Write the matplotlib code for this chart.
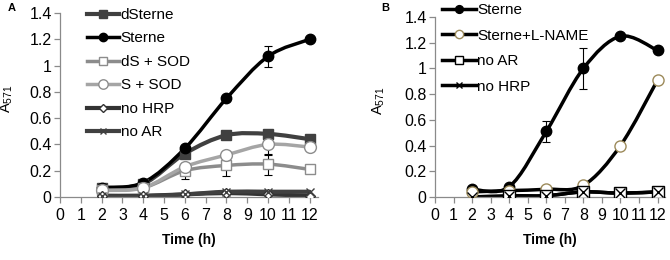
import matplotlib
matplotlib.use("Agg")
import matplotlib.pyplot as plt
import numpy as np
from matplotlib.path import Path
from matplotlib.patches import PathPatch
from matplotlib.lines import Line2D

plt.rcParams['font.family'] = ['Liberation Sans', 'DejaVu Sans']

# ---- data panel A ----
time_a = [2, 4, 6, 8, 10, 12]
dsterne = [0.07, 0.10, 0.33, 0.47, 0.48, 0.44]
dsterne_err = [0.0, 0.0, 0.03, 0.02, 0.02, 0.03]
sterne_a = [0.07, 0.11, 0.37, 0.75, 1.07, 1.20]
sterne_a_err = [0.0, 0.0, 0.02, 0.02, 0.08, 0.01]
ds_sod = [0.05, 0.07, 0.20, 0.24, 0.25, 0.21]
ds_sod_err = [0.0, 0.0, 0.06, 0.08, 0.08, 0.02]
s_sod = [0.05, 0.07, 0.23, 0.32, 0.40, 0.38]
s_sod_err = [0.0, 0.0, 0.03, 0.03, 0.08, 0.02]
no_hrp_a = [0.01, 0.01, 0.02, 0.03, 0.02, 0.01]
no_ar_a = [0.005, 0.005, 0.02, 0.04, 0.04, 0.04]

# ---- data panel B ----
time_b = [2, 4, 6, 8, 10, 12]
sterne_b = [0.06, 0.08, 0.51, 1.00, 1.25, 1.14]
sterne_b_err = [0.0, 0.0, 0.08, 0.16, 0.02, 0.02]
lname = [0.04, 0.05, 0.06, 0.09, 0.40, 0.91]
lname_err = [0.0, 0.0, 0.0, 0.0, 0.02, 0.02]
time_b_ar = [4, 6, 8, 10, 12]
no_ar_b = [0.01, 0.01, 0.04, 0.03, 0.04]
no_hrp_b = [0.0, 0.01, 0.01, 0.04, 0.03, 0.04]

xticks = list(range(0, 13))
yticks = [0, 0.2, 0.4, 0.6, 0.8, 1.0, 1.2, 1.4]
ytick_labels = ['0', '0.2', '0.4', '0.6', '0.8', '1', '1.2', '1.4']


def smooth(ax, x, y, color, lw, z=2):
    pts = np.column_stack([x, y]).astype(float)
    n = len(pts)
    verts = [pts[0]]
    codes = [Path.MOVETO]
    for i in range(n - 1):
        p0 = pts[i - 1] if i > 0 else pts[i]
        p1 = pts[i]
        p2 = pts[i + 1]
        p3 = pts[i + 2] if i + 2 < n else pts[i + 1]
        c1 = p1 + (p2 - p0) / 6.0
        c2 = p2 - (p3 - p1) / 6.0
        verts += [c1, c2, p2]
        codes += [Path.CURVE4] * 3
    ax.add_patch(PathPatch(Path(verts, codes), fill=False, edgecolor=color,
                           lw=lw, zorder=z, capstyle='round', joinstyle='round'))


def style_axes(ax, lab_x, lab_y):
    for s in ['top', 'right']:
        ax.spines[s].set_visible(False)
    for s in ['left', 'bottom']:
        ax.spines[s].set_color('#8a8a8a')
        ax.spines[s].set_linewidth(0.9)
    ax.set_xlim(0, 12.4)
    ax.set_ylim(0, 1.4)
    ax.set_xticks(xticks)
    ax.set_xticklabels([str(t) for t in xticks])
    ax.set_yticks(yticks)
    ax.set_yticklabels(ytick_labels)
    ax.tick_params(axis='both', direction='out', length=4, width=0.9,
                   color='#8a8a8a', labelsize=11.5, pad=2)
    ax.tick_params(axis='x', pad=4)
    ax.set_xlabel('Time (h)', fontsize=10, fontweight='bold', labelpad=7)
    ax.set_ylabel(r'$\mathregular{A_{571}}$', fontsize=10.5)
    ax.yaxis.set_label_coords(lab_x, lab_y)


fig = plt.figure(figsize=(6.7, 2.6), dpi=100)
axA = fig.add_axes([60 / 670, 1 - 197 / 260, 258 / 670, (197 - 13) / 260])
axB = fig.add_axes([435 / 670, 1 - 197 / 260, 230 / 670, (197 - 17) / 260])

# ---- panel A ----
seriesA = [
    ('dSterne', time_a, dsterne, dsterne_err, '#404040', 's', '#404040', '#404040', 3.0, 7),
    ('Sterne', time_a, sterne_a, sterne_a_err, 'black', 'o', 'black', 'black', 2.5, 7.5),
    ('dS + SOD', time_a, ds_sod, ds_sod_err, '#8c8c8c', 's', 'white', '#8c8c8c', 2.5, 7.5),
    ('S + SOD', time_a, s_sod, s_sod_err, '#a5a5a5', 'o', 'white', '#8c8c8c', 2.5, 8.5),
    ('no HRP', time_a, no_hrp_a, None, '#333333', 'D', 'white', '#333333', 3.0, 5.5),
    ('no AR', time_a, no_ar_a, None, '#404040', 'x', 'white', '#404040', 3.0, 6),
]
handlesA = []
for i, (lab, x, y, err, lc, mk, mfc, mec, lw, ms) in enumerate(seriesA):
    smooth(axA, x, y, lc, lw, z=2 + i * 0.1)
    if err is not None:
        axA.errorbar(x, y, yerr=err, fmt='none', ecolor='black', elinewidth=0.8,
                     capsize=3, capthick=0.8, zorder=1.5)
    axA.plot(x, y, linestyle='none', marker=mk, markersize=ms, markerfacecolor=mfc,
             markeredgecolor=mec, markeredgewidth=1.0, zorder=3 + i * 0.1)
    handlesA.append(Line2D([], [], color=lc, lw=lw, marker=mk, markersize=ms * 0.8,
                           markerfacecolor=mfc, markeredgecolor=mec, markeredgewidth=1.0))
style_axes(axA, -0.174, 0.533)
fig.legend(handlesA, [s[0] for s in seriesA], loc='upper left',
           bbox_to_anchor=(87 / 670, 1 - 8 / 260), bbox_transform=fig.transFigure,
           frameon=False, fontsize=11, handlelength=2.1, handletextpad=0.1,
           labelspacing=0.62, borderpad=0, borderaxespad=0)
fig.text(8 / 670, 1 - 8 / 260, 'A', fontsize=8, fontweight='bold', va='center')

# ---- panel B ----
seriesB = [
    ('Sterne', time_b, sterne_b, sterne_b_err, 'black', 'o', 'black', 'black', 2.5, 7.5),
    ('Sterne+L-NAME', time_b, lname, lname_err, 'black', 'o', 'white', '#9c8a5a', 2.5, 8),
    ('no AR', time_b_ar, no_ar_b, None, 'black', 's', 'white', 'black', 2.5, 8),
    ('no HRP', time_b, no_hrp_b, None, 'black', 'x', 'white', 'black', 2.5, 6.5),
]
handlesB = []
for i, (lab, x, y, err, lc, mk, mfc, mec, lw, ms) in enumerate(seriesB):
    smooth(axB, x, y, lc, lw, z=2 + i * 0.1)
    if err is not None:
        axB.errorbar(x, y, yerr=err, fmt='none', ecolor='black', elinewidth=0.8,
                     capsize=3, capthick=0.8, zorder=1.5)
    axB.plot(x, y, linestyle='none', marker=mk, markersize=ms, markerfacecolor=mfc,
             markeredgecolor=mec, markeredgewidth=1.0, zorder=3 + i * 0.1)
    handlesB.append(Line2D([], [], color=lc, lw=lw, marker=mk, markersize=ms * 0.75,
                           markerfacecolor=mfc, markeredgecolor=mec, markeredgewidth=1.0))
style_axes(axB, -0.209, 0.533)
fig.legend(handlesB, [s[0] for s in seriesB], loc='upper left',
           bbox_to_anchor=(442 / 670, 1 - 3 / 260), bbox_transform=fig.transFigure,
           frameon=False, fontsize=11, handlelength=2.2, handletextpad=0.1,
           labelspacing=0.76, borderpad=0, borderaxespad=0)
fig.text(381 / 670, 1 - 8 / 260, 'B', fontsize=8, fontweight='bold', va='center')

fig.savefig('out.png', dpi=100)
